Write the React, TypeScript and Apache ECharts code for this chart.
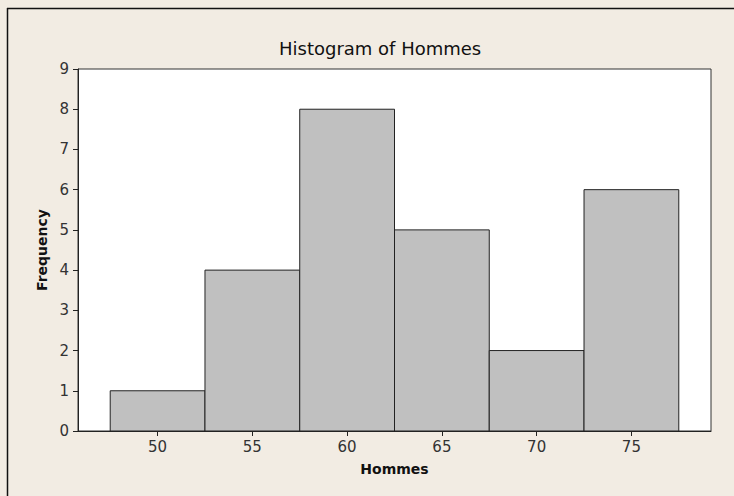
import React, { useEffect, useRef } from "react";
import * as echarts from "echarts";

const binStarts = [47.5, 52.5, 57.5, 62.5, 67.5, 72.5];
const binEnds = [52.5, 57.5, 62.5, 67.5, 72.5, 77.5];
const frequencies = [1, 4, 8, 5, 2, 6];
const xTicks = [50, 55, 60, 65, 70, 75];
const titleText = "Histogram of Hommes";
const xName = "Hommes";
const yName = "Frequency";

const FONT = "'DejaVu Sans', sans-serif";

export default function App() {
  const ref = useRef<HTMLDivElement>(null);
  useEffect(() => {
    if (!ref.current) return;
    const chart = echarts.init(ref.current, undefined, { renderer: "svg" });
    const data = binStarts.map((s, i) => [s, binEnds[i], frequencies[i]]);
    chart.setOption({
      animation: false,
      backgroundColor: "#F2ECE3",
      title: {
        text: titleText,
        left: 274,
        top: 34,
        textStyle: { fontFamily: FONT, fontSize: 18, fontWeight: "normal", color: "#111" },
      },
      graphic: [
        { type: "line", shape: { x1: 7, y1: 8.5, x2: 734, y2: 8.5 }, style: { stroke: "#111", lineWidth: 1.5 } },
        { type: "line", shape: { x1: 7.5, y1: 8, x2: 7.5, y2: 496 }, style: { stroke: "#111", lineWidth: 1.5 } },
      ],
      grid: {
        left: 78,
        top: 69,
        right: 23,
        bottom: 65,
        show: true,
        backgroundColor: "#FFFFFF",
        borderColor: "#333",
        borderWidth: 1,
      },
      xAxis: {
        type: "value",
        min: 45.8,
        max: 79.2,
        name: xName,
        nameLocation: "middle",
        nameGap: 31,
        nameTextStyle: { fontFamily: FONT, fontSize: 14, fontWeight: "bold", color: "#111" },
        splitLine: { show: false },
        axisLine: { show: true, lineStyle: { color: "#222", width: 1 } },
        axisTick: { show: true, length: 5, customValues: xTicks, lineStyle: { color: "#222" } },
        axisLabel: { customValues: xTicks, margin: 8, fontFamily: FONT, fontSize: 15, color: "#333" },
      },
      yAxis: {
        type: "value",
        min: 0,
        max: 9,
        interval: 1,
        name: yName,
        nameLocation: "middle",
        nameGap: 29,
        nameTextStyle: { fontFamily: FONT, fontSize: 14, fontWeight: "bold", color: "#111" },
        splitLine: { show: false },
        axisLine: { show: true, lineStyle: { color: "#222", width: 1 } },
        axisTick: { show: true, length: 5, lineStyle: { color: "#222" } },
        axisLabel: { margin: 9, fontFamily: FONT, fontSize: 15, color: "#333" },
      },
      series: [
        {
          type: "custom",
          data,
          encode: { x: [0, 1], y: 2 },
          renderItem: (params: any, api: any) => {
            const p0 = api.coord([api.value(0), api.value(2)]);
            const p1 = api.coord([api.value(1), 0]);
            return {
              type: "rect",
              shape: { x: p0[0], y: p0[1], width: p1[0] - p0[0], height: p1[1] - p0[1] },
              style: { fill: "#C0C0C0", stroke: "#222", lineWidth: 1 },
            };
          },
        },
      ],
    });
    return () => chart.dispose();
  }, []);
  return (
    <div
      ref={ref}
      style={{ position: "fixed", left: 0, top: 0, width: 734, height: 496 }}
    />
  );
}
